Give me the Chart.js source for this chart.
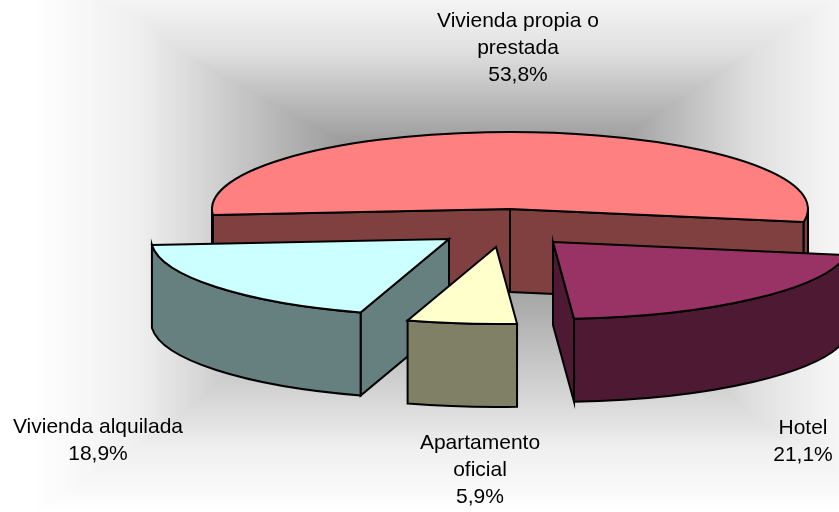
<!DOCTYPE html>
<html>
<head>
<meta charset="utf-8">
<style>html,body{margin:0;padding:0;background:#fff}canvas{display:block}</style>
<script src="https://cdn.jsdelivr.net/npm/chart.js@4"></script>
</head>
<body>
<canvas id="c" width="839" height="512"></canvas>
<script>
const categories = ['Vivienda propia o prestada', 'Hotel', 'Apartamento oficial', 'Vivienda alquilada'];
const shares = [53.8, 21.1, 5.9, 18.9];
const labelLines = [['Vivienda propia o', 'prestada'], ['Hotel'], ['Apartamento', 'oficial'], ['Vivienda alquilada']];
const topColors = ['#FF8080', '#993366', '#FFFFCC', '#CCFFFF'];
const wallColors = ['#804040', '#4D1933', '#808066', '#668080'];

// Style: projection of the flat pie
const CX = 510, CY = 209, RX = 298, RY = 77, DEPTH = 83;
const explodeX = [0, 43, -14, -61];
const explodeY = [0, 33, 38, 30];
const labelX = [518, 803, 480, 98];
const labelY = [21, 428, 443, 427];
const drawOrder = [0, 1, 3, 2];

// Background: nested rectangle levels [gray, left, right, top, bottom]
const bgStops = [
  [255, 30, 880, -27, 515],
  [238, 140, 808, 15, 445],
  [224, 176, 755, 50, 420],
  [165, 320, 633, 130, 292],
  [120, 440, 530, 190, 230]
];

function paintBackground(ctx) {
  ctx.fillStyle = '#fff';
  ctx.fillRect(0, 0, 839, 512);
  for (let s = 0; s < bgStops.length - 1; s++) {
    const A = bgStops[s], B = bgStops[s + 1];
    for (let g = A[0]; g > B[0]; g--) {
      const t = (A[0] - g) / (A[0] - B[0]);
      const at = k => A[k] + (B[k] - A[k]) * t;
      ctx.fillStyle = `rgb(${g},${g},${g})`;
      ctx.fillRect(at(1), at(3), at(2) - at(1), at(4) - at(3));
    }
  }
}

const pie3d = {
  id: 'pie3d',
  beforeDraw(chart) { paintBackground(chart.ctx); },
  beforeDatasetsDraw(chart) {
    const ctx = chart.ctx;
    const arcs = chart.getDatasetMeta(0).data;
    drawOrder.forEach(i => drawSlice(ctx, arcs[i], i));
    return false;
  },
  afterDraw(chart) {
    const ctx = chart.ctx;
    ctx.save();
    ctx.fillStyle = '#000';
    ctx.font = '21px "Liberation Sans", Arial, sans-serif';
    ctx.textAlign = 'center';
    ctx.textBaseline = 'middle';
    shares.forEach((v, i) => {
      const lines = labelLines[i].concat(v.toFixed(1).replace('.', ',') + '%');
      lines.forEach((t, n) => ctx.fillText(t, labelX[i], labelY[i] + n * 27.3));
    });
    ctx.restore();
  }
};

function drawSlice(ctx, arc, i) {
  const {startAngle: s, endAngle: e} = arc.getProps(['startAngle', 'endAngle'], true);
  const ox = CX + explodeX[i], oy = CY + explodeY[i];
  const px = a => ox + RX * Math.cos(a), py = a => oy + RY * Math.sin(a);
  ctx.save();
  ctx.lineWidth = 2;
  ctx.lineJoin = 'miter';
  ctx.miterLimit = 10;
  ctx.strokeStyle = '#000';
  ctx.fillStyle = wallColors[i];

  // radial faces that look toward the viewer
  const face = a => {
    ctx.beginPath();
    ctx.moveTo(ox, oy);
    ctx.lineTo(px(a), py(a));
    ctx.lineTo(px(a), py(a) + DEPTH);
    ctx.lineTo(ox, oy + DEPTH);
    ctx.closePath();
    ctx.fill();
    ctx.stroke();
  };
  if (Math.cos(s) < 0) face(s);
  if (Math.cos(e) > 0) face(e);

  // outer rim, only its front half
  for (let k = -2; k <= 2; k++) {
    const a = Math.max(s, 2 * Math.PI * k), b = Math.min(e, Math.PI + 2 * Math.PI * k);
    if (b <= a) continue;
    ctx.beginPath();
    ctx.ellipse(ox, oy, RX, RY, 0, a, b);
    ctx.ellipse(ox, oy + DEPTH, RX, RY, 0, b, a, true);
    ctx.closePath();
    ctx.fill();
    ctx.stroke();
  }

  // top face: the library's arc element, squashed into an ellipse
  const R = arc.outerRadius;
  ctx.save();
  ctx.translate(ox, oy);
  ctx.scale(RX / R, RY / R);
  ctx.translate(-arc.x, -arc.y);
  arc.draw(ctx);
  ctx.beginPath();
  ctx.moveTo(arc.x, arc.y);
  ctx.arc(arc.x, arc.y, R, s, e);
  ctx.closePath();
  ctx.restore();
  ctx.stroke();
  ctx.restore();
}

new Chart(document.getElementById('c'), {
  type: 'pie',
  data: {
    labels: categories,
    datasets: [{data: shares, backgroundColor: topColors, borderWidth: 0}]
  },
  options: {
    responsive: false,
    animation: false,
    rotation: -94.5,
    layout: {padding: 0},
    plugins: {legend: {display: false}, tooltip: {enabled: false}}
  },
  plugins: [pie3d]
});
</script>
</body>
</html>
